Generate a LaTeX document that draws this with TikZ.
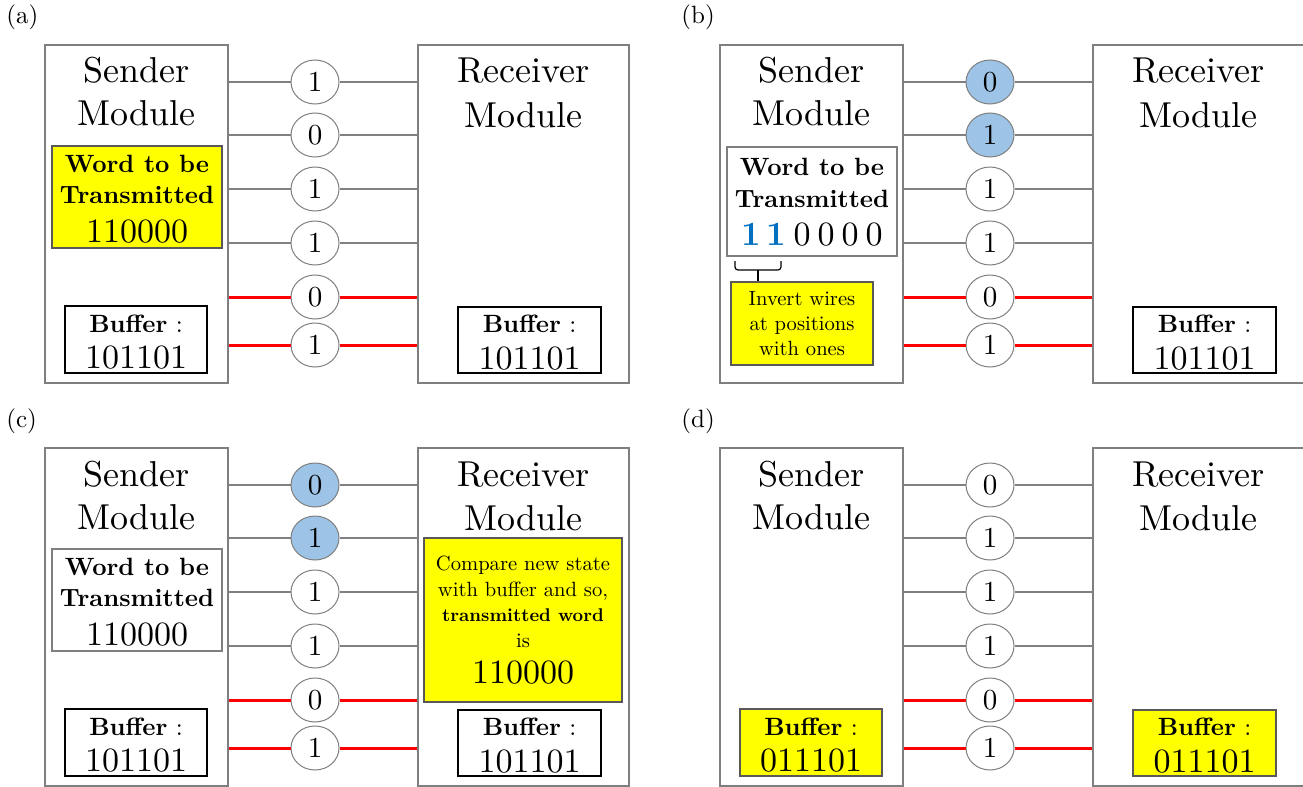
\documentclass[tikz,border=0pt]{standalone}
\usepackage{fontspec}
\setmainfont{lmroman10-regular.otf}[BoldFont=lmroman10-bold.otf]
\usetikzlibrary{shapes.geometric,fit}
\definecolor{boxgray}{HTML}{7F7F7F}
\definecolor{edgegray}{HTML}{595959}
\definecolor{wiregray}{HTML}{808080}
\definecolor{wirered}{HTML}{FF0000}
\definecolor{hiyellow}{HTML}{FFFF00}
\definecolor{bitblue}{HTML}{9DC3E6}
\definecolor{digitblue}{HTML}{0070C0}

% sender/receiver frames, titles and the receiver buffer
\newcommand\modulepair[2]{%
  \node[modbox, fit={(45,45)(228,383)}] (snd) {};
  \node[modbox, fit={(418,45)(629,383)}] (rcv) {};
  \node[title] (snd-t1) at (136.5,83) {Sender};
  \node[title] (snd-t2) at (136.5,126) {Module};
  \node[title] (rcv-t1) at (523.5,83) {Receiver};
  \node[title] (rcv-t2) at (523.5,127) {Module};
  \node[#1, fit={(458,307)(601,373)}] (rbuf) {};
  \node[buflabel] (rbuf-l) at (529.5,332) {\textbf{Buffer} :};
  \node[bignum] (rbuf-v) at (529.5,369) {#2};
}
% sender buffer
\newcommand\senderbuf[2]{%
  \node[#1, fit={(65,306)(207,373)}] (sbuf) {};
  \node[buflabel] (sbuf-l) at (136,332) {\textbf{Buffer} :};
  \node[bignum] (sbuf-v) at (136,368) {#2};
}
% six wires, each with its state bubble
\newcommand\wires[1]{%
  \foreach \i/\y/\d/\f/\w in {#1} {
    \node[bit, fill=\f] (bit\i) at (315,\y) {\d};
    \draw[\w] (snd.east |- bit\i) -- (bit\i.west);
    \draw[\w] (bit\i.east) -- (rcv.west |- bit\i);
  }
}
% word box contents
\newcommand\wordlines[4]{%
  \node[wordlabel] (wl1) at (137,#1) {Word to be};
  \node[wordlabel] (wl2) at (137,#2) {Transmitted};
  \node[bignum] (wl3) at (137,#3) {#4};
}

\begin{document}
\begin{tikzpicture}[x=0.5pt,y=-0.5pt,
  modbox/.style={draw=boxgray, line width=0.6pt, inner sep=0pt},
  plainbuf/.style={draw=black, line width=0.7pt, inner sep=0pt},
  yellowbuf/.style={draw=edgegray, fill=hiyellow, line width=0.6pt, inner sep=0pt},
  whitebox/.style={draw=boxgray, line width=0.6pt, inner sep=0pt},
  title/.style={anchor=base, inner sep=0pt, font=\fontsize{18}{21}\selectfont},
  buflabel/.style={anchor=base, inner sep=0pt, font=\fontsize{12.5}{15}\selectfont},
  wordlabel/.style={anchor=base, inner sep=0pt, font=\fontsize{12.5}{15}\selectfont\bfseries},
  bignum/.style={anchor=base, inner sep=0pt, font=\fontsize{17}{20}\selectfont},
  smalltext/.style={anchor=base, inner sep=0pt, font=\fontsize{10.3}{12}\selectfont},
  panellabel/.style={anchor=base west, inner sep=0pt, font=\fontsize{12.5}{14}\selectfont},
  bit/.style={ellipse, draw=boxgray, line width=0.5pt, inner sep=0pt,
    minimum width=24pt, minimum height=22pt, font=\fontsize{14.5}{16}\selectfont},
  graywire/.style={draw=wiregray, line width=0.7pt},
  redwire/.style={draw=wirered, line width=1.5pt},
]
\useasboundingbox (0,0) rectangle (1303,787);

% ---------- (a) ----------
\begin{scope}[name prefix=a-]
  \node[panellabel] (lab) at (6,24) {(a)};
  \modulepair{plainbuf}{101101}
  \senderbuf{plainbuf}{101101}
  \node[yellowbuf, fit={(52,146)(222,248)}] (word) {};
  \wordlines{172}{203}{242}{110000}
  \wires{1/82/1/white/graywire, 2/135/0/white/graywire, 3/189/1/white/graywire,
         4/243/1/white/graywire, 5/297/0/white/redwire, 6/345/1/white/redwire}
\end{scope}

% ---------- (b) ----------
\begin{scope}[shift={(675,0)}, name prefix=b-]
  \node[panellabel] (lab) at (6,24) {(b)};
  \modulepair{plainbuf}{101101}
  \node[whitebox, fit={(52,147)(222,256)}] (word) {};
  \node[wordlabel] (wl1) at (137,175) {Word to be};
  \node[wordlabel] (wl2) at (137,207) {Transmitted};
  \node[bignum] (wl3) at (137,245)
    {\textcolor{digitblue}{\bfseries 1\hspace{3pt}1}\hspace{3.5pt}0\hspace{3.5pt}0\hspace{3.5pt}0\hspace{3.5pt}0};
  \node[yellowbuf, fit={(56,282)(198,365)}] (inv) {};
  \node[smalltext] (inv1) at (127,305) {Invert wires};
  \node[smalltext] (inv2) at (127,330) {at positions};
  \node[smalltext] (inv3) at (127,355) {with ones};
  \draw[black, line width=0.6pt, rounded corners=1.5pt]
    (60,261) -- (60,270) -- (106,270) -- (106,261);
  \coordinate (tip) at (83,270);
  \draw[black, line width=0.6pt] (tip) -- (tip |- inv.north);
  \wires{1/82/0/bitblue/graywire, 2/135/1/bitblue/graywire, 3/189/1/white/graywire,
         4/243/1/white/graywire, 5/297/0/white/redwire, 6/345/1/white/redwire}
\end{scope}

% ---------- (c) ----------
\begin{scope}[shift={(0,403)}, name prefix=c-]
  \node[panellabel] (lab) at (6,24) {(c)};
  \modulepair{plainbuf}{101101}
  \senderbuf{plainbuf}{101101}
  \node[whitebox, fit={(52,146)(222,248)}] (word) {};
  \wordlines{172}{203}{242}{110000}
  \node[yellowbuf, fit={(424,135)(622,299)}] (cmp) {};
  \node[smalltext] (cmp1) at (523,167) {Compare new state};
  \node[smalltext] (cmp2) at (523,193) {with buffer and so,};
  \node[smalltext, font=\fontsize{9.2}{12}\selectfont\bfseries] (cmp3) at (523,218) {transmitted word};
  \node[smalltext] (cmp4) at (523,244) {is};
  \node[bignum] (cmp5) at (523,280) {110000};
  \wires{1/82/0/bitblue/graywire, 2/135/1/bitblue/graywire, 3/189/1/white/graywire,
         4/243/1/white/graywire, 5/297/0/white/redwire, 6/345/1/white/redwire}
\end{scope}

% ---------- (d) ----------
\begin{scope}[shift={(675,403)}, name prefix=d-]
  \node[panellabel] (lab) at (6,24) {(d)};
  \modulepair{yellowbuf}{011101}
  \senderbuf{yellowbuf}{011101}
  \wires{1/82/0/white/graywire, 2/135/1/white/graywire, 3/189/1/white/graywire,
         4/243/1/white/graywire, 5/297/0/white/redwire, 6/345/1/white/redwire}
\end{scope}
\end{tikzpicture}
\end{document}
